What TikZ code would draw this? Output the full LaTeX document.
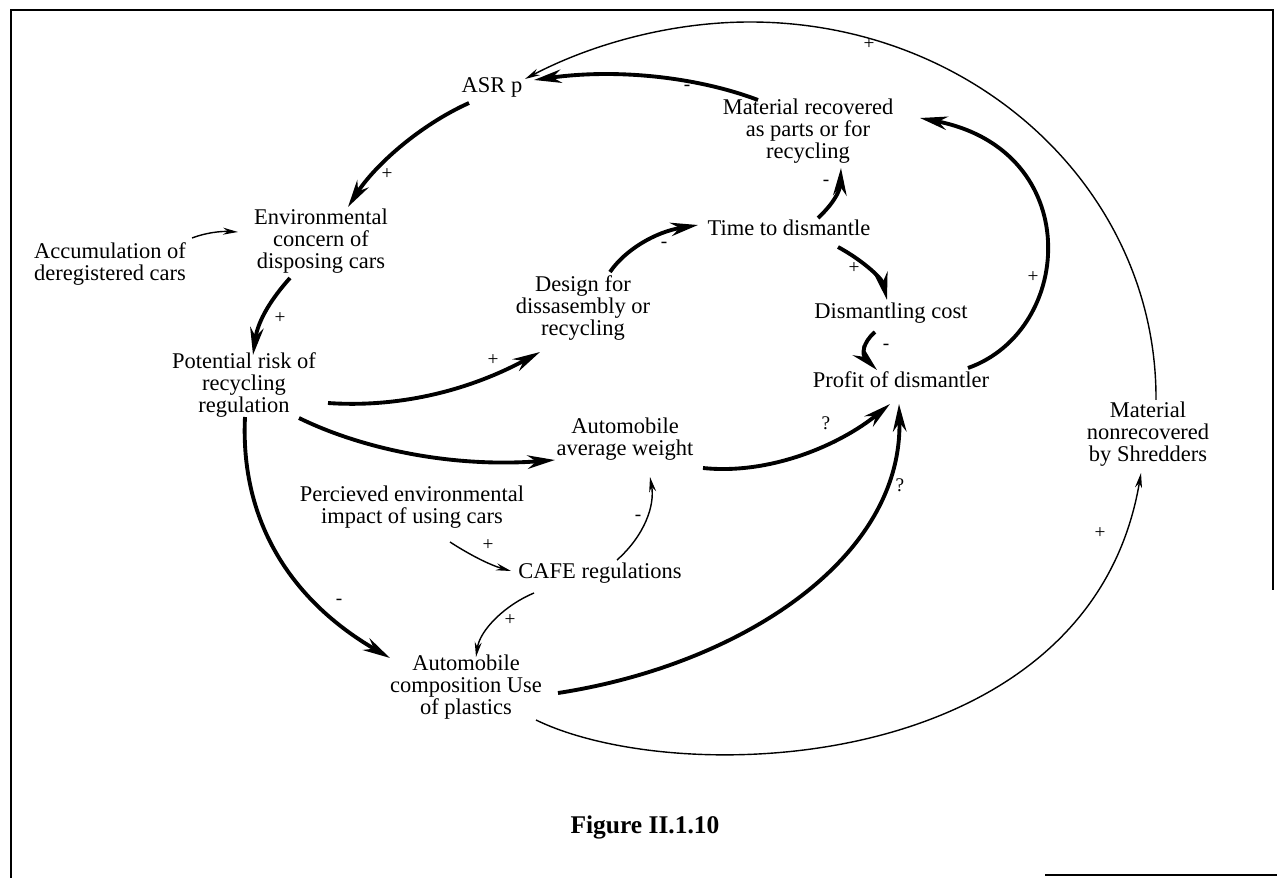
\documentclass[tikz,border=0pt]{standalone}
\usepackage{fontspec}
\setmainfont{Liberation Serif}
\usetikzlibrary{arrows.meta}

\newcommand{\varfont}{\fontsize{12.8}{12.4}\selectfont}
\newcommand{\signfont}{\fontsize{11}{11}\selectfont}
\newcommand{\figfont}{\bfseries\fontsize{14.5}{15}\selectfont}

\tikzset{
	var/.style={align=center,inner sep=1pt,font=\varfont},
	sign/.style={inner sep=0pt,font=\signfont},
	strong/.style={line width=2.2pt,-{Stealth[length=0.55cm,width=0.27cm]}},
	weak/.style={line width=0.8pt,-{Stealth[length=0.3cm,width=0.14cm]}},
	frame/.style={line width=1.2pt}
}

\begin{document}
\begin{tikzpicture}[x=0.02cm,y=-0.02cm]

\useasboundingbox (0,0) rectangle (1277,878);

% scanned frame
\draw[frame] (11,878) -- (11,10) -- (1273,10) -- (1273,590);
\draw[frame] (1045,875) -- (1277,875);

% variables
\node[var] (asr) at (492,87) {ASR p};
\node[var] (matrec) at (808,131) {Material recovered\\as parts or for\\recycling};
\node[var] (envc) at (321,241) {Environmental\\concern of\\disposing cars};
\node[var] (accum) at (110,264) {Accumulation of\\deregistered cars};
\node[var] (pot) at (244,385) {Potential risk of\\recycling\\regulation};
\node[var] (time) at (789,228) {Time to dismantle};
\node[var] (design) at (583,308) {Design for\\dissasembly or\\recycling};
\node[var] (dcost) at (891,313) {Dismantling cost};
\node[var] (profit) at (901,380) {Profit of dismantler};
\node[var] (weight) at (625,439) {Automobile\\average weight};
\node[var] (perc) at (412,507) {Percieved environmental\\impact of using cars};
\node[var] (cafe) at (600,573) {CAFE regulations};
\node[var] (comp) at (466,687) {Automobile\\composition Use\\of plastics};
\node[var] (shred) at (1148,434) {Material\\nonrecovered\\by Shredders};

\node[font=\figfont] (fig) at (645,827) {Figure II.1.10};

% outer loop over the top
\coordinate (arctop) at (750,22);
\draw[weak] ([shift={(8,0)}]shred.north) .. controls +(1,-210) and +(225,0) .. (arctop)
	.. controls +(-81,0) and +(65,-34) .. ([shift={(33,-8)}]asr.center);

% strong links
\draw[strong] ([shift={(-50,-31)}]matrec.center) .. controls +(-58,-22) and +(86,-12) .. ([shift={(42,-7)}]asr.center);
\draw[strong] ([shift={(-23,16)}]asr.center) .. controls +(-49,22) and +(27,-42) .. ([shift={(27,-34)}]envc.center);
\draw[strong] ([shift={(-31,37)}]envc.center) .. controls +(-18,20) and +(5,-35) .. ([shift={(9,-30)}]pot.center);
\draw[strong] ([shift={(84,18)}]pot.center) .. controls +(72,5) and +(-70,38) .. ([shift={(-43,44)}]design.center);
\draw[strong] ([shift={(27,-36)}]design.center) .. controls +(15,-22) and +(-43,7) .. ([shift={(-91,-3)}]time.center);
\draw[strong] ([shift={(29,-10)}]time.center) .. controls +(14,-13) and +(-1,24) .. ([shift={(33,37)}]matrec.center);
\draw[strong] ([shift={(49,19)}]time.center) .. controls +(24,13) and +(-5,-22) .. ([shift={(-4,-13)}]dcost.center);
\draw[strong] ([shift={(-16,19)}]dcost.center) .. controls +(-13,11) and +(-15,-15) .. ([shift={(-24,-10)}]profit.center);
\draw[strong] ([shift={(67,-12)}]profit.center) .. controls +(107,-38) and +(165,32) .. ([shift={(112,-13)}]matrec.center);
\draw[strong] ([shift={(78,29)}]weight.center) .. controls +(67,7) and +(-50,41) .. ([shift={(-11,24)}]profit.center);
\draw[strong] ([shift={(92,6)}]comp.center) .. controls +(182,-28) and +(4,155) .. ([shift={(-2,24)}]profit.center);
\draw[strong] ([shift={(55,33)}]pot.center) .. controls +(61,30) and +(-105,8) .. ([shift={(-70,21)}]weight.center);
\draw[strong] ([shift={(1,32)}]pot.center) .. controls +(-5,103) and +(-100,-58) .. ([shift={(-76,-29)}]comp.center);

% weak links
\draw[weak] ([shift={(82,-26)}]accum.center) .. controls +(13,-5) and +(-18,-1) .. ([shift={(-83,-9)}]envc.center);
\draw[weak] ([shift={(38,35)}]perc.center) .. controls +(20,13) and +(-21,-6) .. ([shift={(-89,-2)}]cafe.center);
\draw[weak] ([shift={(17,-13)}]cafe.center) .. controls +(28,-25) and +(5,28) .. ([shift={(25,38)}]weight.center);
\draw[weak] ([shift={(-66,20)}]cafe.center) .. controls +(-29,12) and +(4,-27) .. ([shift={(10,-30)}]comp.center);
\draw[weak] ([shift={(70,33)}]comp.center) .. controls +(144,70) and +(-51,302) .. ([shift={(-7,39)}]shred.center);

% polarities
\foreach \n/\x/\y/\s in {a/869/44/+, b/687/88/-, c/387/174/+, d/280/318/+, e/493/360/+,
	f/664/245/-, g/826/183/-, h/854/268/+, i/886/347/-, j/1033/277/+, k/826/423/?,
	l/900/485/?, m/339/602/-, n/488/545/+, o/638/518/-, p/510/620/+, q/1100/533/+}
	\node[sign] (sign\n) at (\x,\y) {\s};

\end{tikzpicture}
\end{document}
